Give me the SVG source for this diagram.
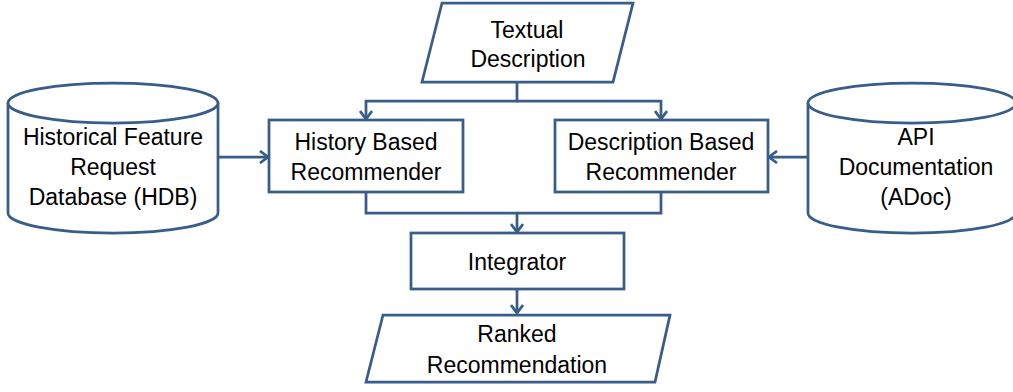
<svg xmlns="http://www.w3.org/2000/svg" width="1013" height="392" viewBox="0 0 1013 392">
<style>
.s{fill:#fff;stroke:#385D8A;stroke-width:2.75;stroke-linejoin:miter}
.c{fill:none;stroke:#385D8A;stroke-width:2.75}
text{font-family:"Liberation Sans",Arial,sans-serif;font-size:23px;fill:#000;text-anchor:middle}
</style>
<defs>
<marker id="ah" markerUnits="userSpaceOnUse" viewBox="0 0 12 14" markerWidth="12" markerHeight="14" refX="10" refY="7" orient="auto">
<path d="M2,1 L10,7 L2,13" fill="none" stroke="#385D8A" stroke-width="2.75"/>
</marker>
</defs>
<rect width="1013" height="392" fill="#fff"/>
<g id="connectors">
<path class="c" d="M517,82 V101 H366 V119" marker-end="url(#ah)"/>
<path class="c" d="M517,101 H661 V119" marker-end="url(#ah)"/>
<path class="c" d="M366,192 V213 H517 V232" marker-end="url(#ah)"/>
<path class="c" d="M661,192 V213 H517"/>
<path class="c" d="M517,289 V313" marker-end="url(#ah)"/>
<path class="c" d="M218,157 H268" marker-end="url(#ah)"/>
<path class="c" d="M808,157 H769" marker-end="url(#ah)"/>
</g>
<g id="textual">
<polygon class="s" points="442,3 633,3 613,82 422,82"/>
<text x="527" y="38">Textual</text>
<text x="528" y="67">Description</text>
</g>
<g id="hdb">
<path class="s" d="M8,103 V213 A105,20 0 0 0 218,213 V103"/>
<ellipse class="s" cx="113" cy="103" rx="105" ry="20"/>
<text x="113" y="145">Historical Feature</text>
<text x="113" y="175">Request</text>
<text x="113" y="205">Database (HDB)</text>
</g>
<g id="adoc">
<path class="s" d="M808,103 V213 A104,20 0 0 0 1016,213 V103"/>
<ellipse class="s" cx="912" cy="103" rx="104" ry="20"/>
<text x="916" y="145">API</text>
<text x="916" y="175">Documentation</text>
<text x="916" y="205">(ADoc)</text>
</g>
<g id="history">
<rect class="s" x="269" y="120" width="194" height="72"/>
<text x="366" y="150">History Based</text>
<text x="366" y="180">Recommender</text>
</g>
<g id="description">
<rect class="s" x="555" y="120" width="213" height="72"/>
<text x="661" y="150">Description Based</text>
<text x="661" y="180">Recommender</text>
</g>
<g id="integrator">
<rect class="s" x="411" y="233" width="213" height="56"/>
<text x="517" y="270">Integrator</text>
</g>
<g id="ranked">
<polygon class="s" points="383,315 670,315 655,382 366,382"/>
<text x="517" y="342">Ranked</text>
<text x="517" y="373">Recommendation</text>
</g>
</svg>
